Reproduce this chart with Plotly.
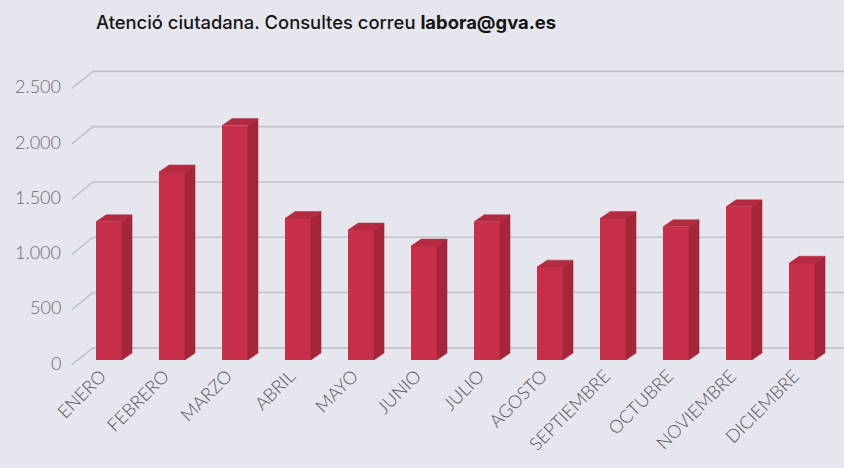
import plotly.graph_objects as go

months = ["ENERO", "FEBRERO", "MARZO", "ABRIL", "MAYO", "JUNIO", "JULIO",
          "AGOSTO", "SEPTIEMBRE", "OCTUBRE", "NOVIEMBRE", "DICIEMBRE"]
consultes = [1250, 1700, 2120, 1280, 1175, 1030, 1250, 840, 1280, 1205, 1385, 875]
y_ticks = [0, 500, 1000, 1500, 2000, 2500]
y_tick_text = ["0", "500", "1.000", "1.500", "2.000", "2.500"]

BG = "#E6E6EF"
FRONT, SIDE, TOP = "#C8304A", "#A52539", "#B42A41"
GRID = "#C2C2CA"

# fake 3d: bar half width, depth offsets (x units / y value units)
hw, ddx, ddy = 0.206, 0.16, 63
wall_dy, diag_lo, x_front, x_wall = 110, -45, -0.59, -0.255

fig = go.Figure()

# back wall grid lines with perspective stub at the left (below all traces)
shapes = []
for v in y_ticks:
    path = "M %g,%g L %g,%g L %g,%g" % (x_front, v + diag_lo, x_wall, v + wall_dy, 12.5, v + wall_dy)
    shapes.append(dict(type="path", path=path, xref="x", yref="y", layer="below",
                       line=dict(color=GRID, width=1.6)))

# bars: side face, top face, front face
for i, v in enumerate(consultes):
    x0, x1 = i - hw, i + hw
    fig.add_trace(go.Scatter(x=[x1, x1 + ddx, x1 + ddx, x1, x1], y=[0, ddy, v + ddy, v, 0],
                             fill="toself", fillcolor=SIDE, mode="lines",
                             line=dict(color=SIDE, width=0.5), hoverinfo="skip", showlegend=False))
    fig.add_trace(go.Scatter(x=[x0, x0 + ddx, x1 + ddx, x1, x0], y=[v, v + ddy, v + ddy, v, v],
                             fill="toself", fillcolor=TOP, mode="lines",
                             line=dict(color=TOP, width=0.5), hoverinfo="skip", showlegend=False))

fig.add_trace(go.Bar(x=list(range(len(months))), y=consultes, width=2 * hw,
                     marker=dict(color=FRONT, line=dict(width=0)),
                     hovertext=months, showlegend=False))

annotations = [dict(x=-0.73, y=v - 25, xref="x", yref="y", text=t, showarrow=False,
                    xanchor="right", yanchor="middle",
                    font=dict(family="Lato", size=18, weight=300, color="#6A6A70"))
               for v, t in zip(y_ticks, y_tick_text)]
annotations.append(dict(x=94 / 844, y=1 + (50 - 22) / 317, xref="paper", yref="paper",
                        text="Atenció ciutadana. Consultes correu <b>labora@gva.es</b>",
                        showarrow=False, xanchor="left", yanchor="middle",
                        font=dict(family="Inter", size=18.4, weight=500, color="#151515")))

fig.update_layout(
    width=844, height=468,
    paper_bgcolor=BG, plot_bgcolor=BG,
    margin=dict(l=0, r=0, t=50, b=101),
    bargap=0,
    xaxis=dict(range=[-1.73, 11.667], tickmode="array", tickvals=list(range(len(months))),
               ticktext=months, tickangle=-45, showgrid=False, zeroline=False,
               showline=False, ticklabelshift=-8, ticklabelstandoff=-6,
               tickfont=dict(family="Lato", size=18, weight=300, color="#55555B")),
    yaxis=dict(range=[-63.3, 2803], showgrid=False, zeroline=False, showticklabels=False),
    annotations=annotations,
    shapes=shapes,
)

fig.write_html("out.html", config={"displayModeBar": False},
               post_script="document.body.style.margin='0';")
